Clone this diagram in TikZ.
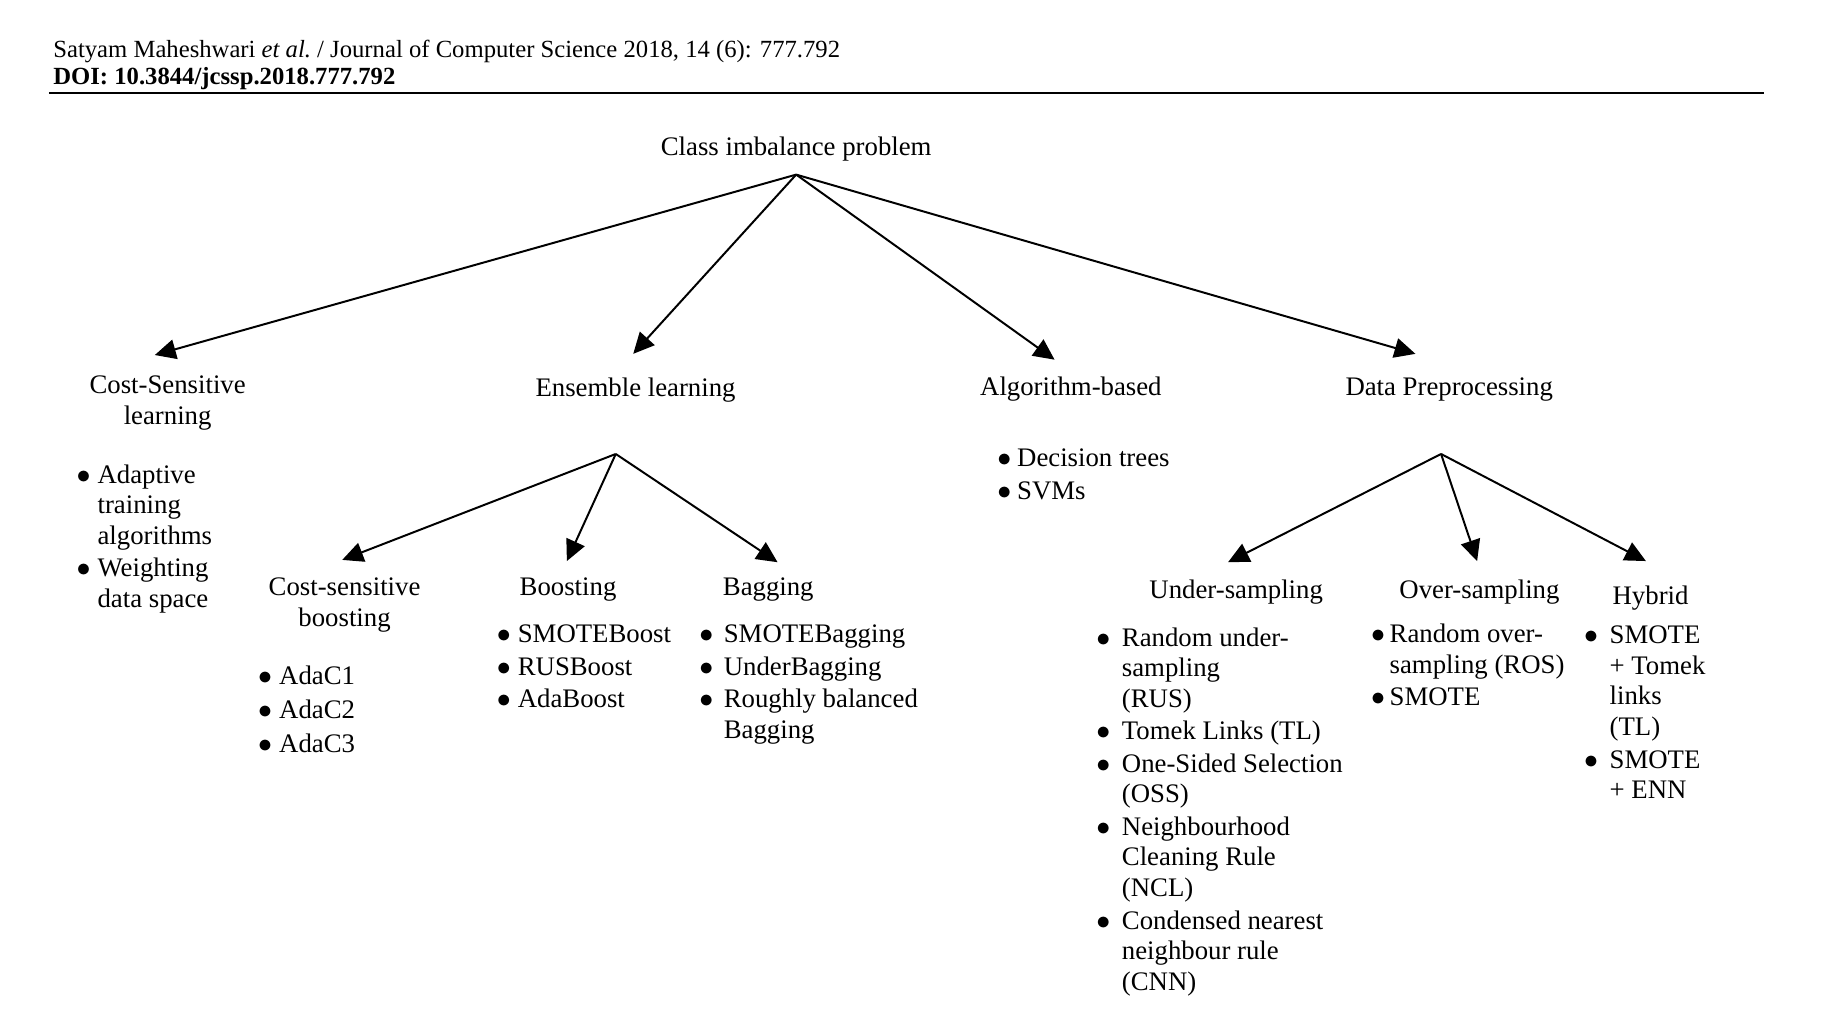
\documentclass[tikz,border=0pt]{standalone}
\usepackage{fontspec}
\setmainfont{Liberation Serif}
\usetikzlibrary{arrows.meta}
\newcommand{\lbl}{\fontsize{11.5}{13.15}\selectfont}
\newcommand{\hdr}{\fontsize{10.6}{12.5}\selectfont}
\newcommand{\bul}{\makebox[4pt]{$\bullet$}}
\tikzset{
	lab/.style={anchor=base,inner sep=0pt},
	lst/.style={anchor=base west,inner sep=0pt},
}
\begin{document}
\begin{tikzpicture}[x=0.5pt,y=-0.5pt,font=\lbl,>={Triangle[length=9pt,width=8.5pt]},line width=0.85pt]
		\useasboundingbox (0,0) rectangle (1567,873);
		% header
		\node[lst,font=\hdr] (head) at (45,49) {Satyam Maheshwari {\itshape et al.}\ / Journal of Computer Science 2018, 14 (6): 777.792};
		\node[lst,font=\hdr\bfseries] (doi) at (45,73) {DOI: 10.3844/jcssp.2018.777.792};
		\draw[line width=1.1pt] (42,80)--(1515,80);
		% top level
		\node[lab] (root) at (684,134) {Class imbalance problem};
		\coordinate (rootfork) at (684,150);
		\node[lab] (costsens) at (144,338) {\begin{tabular}[t]{@{}c@{}}Cost-Sensitive\\ learning\end{tabular}};
		\node[lab] (ensemble) at (546,341) {Ensemble learning};
		\node[lab] (algo) at (920,340) {Algorithm-based};
		\node[lab] (prep) at (1245,340) {Data Preprocessing};
		\coordinate (costtip) at (133,305);
		\coordinate (enstip) at (544,304);
		\coordinate (algotip) at (906,309);
		\coordinate (preptip) at (1216,304);
		\draw[->] (rootfork)--(costtip);
		\draw[->] (rootfork)--(enstip);
		\draw[->] (rootfork)--(algotip);
		\draw[->] (rootfork)--(preptip);
		% cost-sensitive and algorithm lists
		\node[lst] (costlist) at (67,415) {\begin{tabular}[t]{@{}l@{\hspace{4pt}}l@{}}
			\bul & Adaptive\\ & training\\ & algorithms\\[0.8pt]
			\bul & Weighting\\ & data space
		\end{tabular}};
		\node[lst] (algolist) at (858,401) {\begin{tabular}[t]{@{}l@{\hspace{3.5pt}}l@{}}
			\bul & Decision trees\\[0.8pt]
			\bul & SVMs
		\end{tabular}};
		% ensemble learning
		\coordinate (ensfork) at (529,390);
		\node[lab] (csboost) at (296,512) {\begin{tabular}[t]{@{}c@{}}Cost-sensitive\\ boosting\end{tabular}};
		\node[lab] (boost) at (488,512) {Boosting};
		\node[lab] (bag) at (660,512) {Bagging};
		\coordinate (csbtip) at (294,481);
		\coordinate (boosttip) at (487,482);
		\coordinate (bagtip) at (668,483);
		\draw[->] (ensfork)--(csbtip);
		\draw[->] (ensfork)--(boosttip);
		\draw[->] (ensfork)--(bagtip);
		\node[lst] (adalist) at (223,588) {\begin{tabular}[t]{@{}l@{\hspace{4pt}}l@{}}
			\bul & AdaC1\\[1.4pt]
			\bul & AdaC2\\[1.4pt]
			\bul & AdaC3
		\end{tabular}};
		\node[lst] (boostlist) at (428,552) {\begin{tabular}[t]{@{}l@{\hspace{4pt}}l@{}}
			\bul & SMOTEBoost\\[0.8pt]
			\bul & RUSBoost\\[0.8pt]
			\bul & AdaBoost
		\end{tabular}};
		\node[lst] (baglist) at (602,552) {\begin{tabular}[t]{@{}l@{\hspace{5.5pt}}l@{}}
			\bul & SMOTEBagging\\[0.8pt]
			\bul & UnderBagging\\[0.8pt]
			\bul & Roughly balanced\\ & Bagging
		\end{tabular}};
		% data preprocessing
		\coordinate (prepfork) at (1238,390);
		\node[lab] (under) at (1062,514) {Under-sampling};
		\node[lab] (over) at (1271,514) {Over-sampling};
		\node[lab] (hybrid) at (1418,519) {Hybrid};
		\coordinate (undertip) at (1055,483);
		\coordinate (overtip) at (1269,482);
		\coordinate (hybtip) at (1414,482);
		\draw[->] (prepfork)--(undertip);
		\draw[->] (prepfork)--(overtip);
		\draw[->] (prepfork)--(hybtip);
		\node[lst] (underlist) at (943,555) {\begin{tabular}[t]{@{}l@{\hspace{6pt}}l@{}}
			\bul & Random under-\\ & sampling\\ & (RUS)\\[0.8pt]
			\bul & Tomek Links (TL)\\[0.8pt]
			\bul & One-Sided Selection\\ & (OSS)\\[0.8pt]
			\bul & Neighbourhood\\ & Cleaning Rule\\ & (NCL)\\[0.8pt]
			\bul & Condensed nearest\\ & neighbour rule\\ & (CNN)
		\end{tabular}};
		\node[lst] (overlist) at (1179,552) {\begin{tabular}[t]{@{}l@{\hspace{3pt}}l@{}}
			\bul & Random over-\\ & sampling (ROS)\\[0.8pt]
			\bul & SMOTE
		\end{tabular}};
		\node[lst] (hyblist) at (1362,553) {\begin{tabular}[t]{@{}l@{\hspace{6pt}}l@{}}
			\bul & SMOTE\\ & + Tomek\\ & links\\ & (TL)\\[0.8pt]
			\bul & SMOTE\\ & + ENN
		\end{tabular}};
	\end{tikzpicture}
\end{document}
